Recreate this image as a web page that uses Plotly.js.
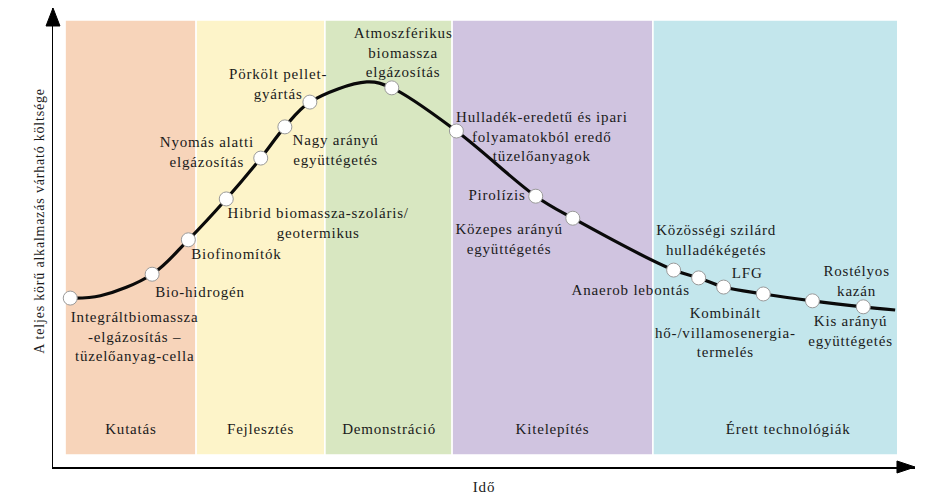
<!DOCTYPE html>
<html>
<head>
<meta charset="utf-8">
<script src="https://cdn.plot.ly/plotly-3.0.1.min.js"></script>
<style>
  html, body { margin: 0; padding: 0; background: #fff; }
  #chart { width: 930px; height: 502px; }
  #chart text { letter-spacing: 0.8px; }
</style>
</head>
<body>
<div id="chart"></div>
<script>
// Technológiai érettségi görbe: idő (x, 0-100) vs. várható költség (y, 0-100)

// szakaszok (háttérsávok)
var stageNames = ['Kutatás', 'Fejlesztés', 'Demonstráció', 'Kitelepítés', 'Érett technológiák'];
var stageEdges = [1.4, 16.6, 31.55, 46.3, 69.6, 98.0];
var stageColors = ['#F7D4BA', '#FDF4C9', '#D8E7C1', '#D0C4E0', '#C3E6EC'];

// technológiák a görbén
var techNames = [
  'Integráltbiomassza<br>-elgázosítás –<br>tüzelőanyag-cella',
  'Bio-hidrogén',
  'Biofinomítók',
  'Hibrid biomassza-szoláris/<br>geotermikus',
  'Nyomás alatti<br>elgázosítás',
  'Nagy arányú<br>együttégetés',
  'Pörkölt pellet-<br>gyártás',
  'Atmoszférikus<br>biomassza<br>elgázosítás',
  'Hulladék-eredetű és ipari<br>folyamatokból eredő<br>tüzelőanyagok',
  'Pirolízis',
  'Közepes arányú<br>együttégetés',
  'Közösségi szilárd<br>hulladékégetés',
  'Anaerob lebontás',
  'LFG',
  'Kombinált<br>hő-/villamosenergia-<br>termelés',
  'Kis arányú<br>együttégetés',
  'Rostélyos<br>kazán'
];
var techX = [2.0, 11.5, 15.7, 20.1, 24.1, 26.9, 29.8, 39.3, 46.8, 56.0, 60.3, 72.0, 74.9, 77.8, 82.4, 88.1, 94.0];
var techY = [36.8, 42.0, 49.5, 58.4, 67.3, 74.1, 79.5, 82.6, 73.2, 59.0, 54.2, 42.9, 41.2, 39.2, 37.7, 36.2, 34.9];

// a felirat helye az egyes pontokhoz képest
var labelX = [9.5, 17.1, 21.3, 30.8, 17.9, 32.8, 26.1, 40.6, 56.7, 51.5, 53.0, 77.0, 67.0, 80.6, 78.0, 92.5, 93.2];
var labelY = [28.5, 38.1, 46.4, 53.1, 68.6, 69.1, 83.4, 90.4, 71.9, 59.2, 49.7, 49.5, 38.6, 42.2, 29.3, 29.6, 40.5];

// a görbe kiegészítő pontjai (csúcs és vége)
var curveX = [2.0, 5.5, 11.5, 15.7, 20.1, 24.1, 26.9, 29.8, 36.4, 39.3, 46.8, 56.0, 60.3, 72.0, 74.9, 77.8, 82.4, 88.1, 94.0, 97.7];
var curveY = [36.8, 37.3, 42.0, 49.5, 58.4, 67.3, 74.1, 79.5, 83.9, 82.6, 73.2, 59.0, 54.2, 42.9, 41.2, 39.2, 37.7, 36.2, 34.9, 34.2];

var serif = "'Liberation Serif', 'Times New Roman', serif";
var txtColor = '#1a1a1a';

var curve = {
  x: curveX,
  y: curveY,
  mode: 'lines',
  type: 'scatter',
  line: {color: '#0a0a0a', width: 3.2, shape: 'spline', smoothing: 1},
  hoverinfo: 'skip'
};

var points = {
  x: techX,
  y: techY,
  text: techNames,
  mode: 'markers',
  type: 'scatter',
  marker: {size: 14, color: '#ffffff', line: {color: '#9a9a9a', width: 1}},
  hoverinfo: 'text'
};

var shapes = [];
var annotations = [];

for (var i = 0; i < stageNames.length; i++) {
  shapes.push({
    type: 'rect', layer: 'below',
    xref: 'x', yref: 'y',
    x0: stageEdges[i], x1: stageEdges[i + 1],
    y0: 2.6, y1: 97.4,
    fillcolor: stageColors[i],
    line: {color: '#ffffff', width: 1.5}
  });
  annotations.push({
    x: (i == 4) ? 85.3 : (stageEdges[i] + stageEdges[i + 1]) / 2,
    y: 8.2,
    xref: 'x', yref: 'y',
    text: stageNames[i],
    showarrow: false,
    font: {family: serif, size: 15, color: txtColor}
  });
}

for (var j = 0; j < techNames.length; j++) {
  annotations.push({
    x: labelX[j], y: labelY[j],
    xref: 'x', yref: 'y',
    text: techNames[j],
    showarrow: false,
    align: 'center',
    font: {family: serif, size: 15, color: txtColor}
  });
}

// függőleges tengelycím (kicsit a középponttól feljebb, mint az eredetin)
annotations.push({
  x: -0.0267, y: 0.536,
  xref: 'paper', yref: 'paper',
  text: 'A teljes körű alkalmazás várható költsége',
  textangle: -90,
  showarrow: false,
  font: {family: serif, size: 14, color: txtColor}
});

// tengelyek nyílhegyei
shapes.push({
  type: 'path', xref: 'paper', yref: 'paper',
  path: 'M -0.0081 0.9608 L 0 1 L 0.0081 0.9608 Z',
  fillcolor: '#000', line: {color: '#000', width: 1}
});
shapes.push({
  type: 'path', xref: 'paper', yref: 'paper',
  path: 'M 0.9791 0.0131 L 1 0 L 0.9791 -0.0131 Z',
  fillcolor: '#000', line: {color: '#000', width: 1}
});

var layout = {
  width: 930,
  height: 502,
  margin: {l: 53, r: 15, t: 8, b: 35},
  paper_bgcolor: '#ffffff',
  plot_bgcolor: '#ffffff',
  showlegend: false,
  hovermode: 'closest',
  xaxis: {
    range: [0, 100],
    showgrid: false, zeroline: false, showticklabels: false, ticks: '',
    showline: true, linecolor: '#000', linewidth: 1.5,
    fixedrange: true,
    title: {text: 'Idő', standoff: 14, font: {family: serif, size: 15, color: txtColor}}
  },
  yaxis: {
    range: [0, 100],
    showgrid: false, zeroline: false, showticklabels: false, ticks: '',
    showline: true, linecolor: '#000', linewidth: 1.5,
    fixedrange: true
  },
  shapes: shapes,
  annotations: annotations
};

Plotly.newPlot('chart', [curve, points], layout, {displayModeBar: false, staticPlot: true});
</script>
</body>
</html>
